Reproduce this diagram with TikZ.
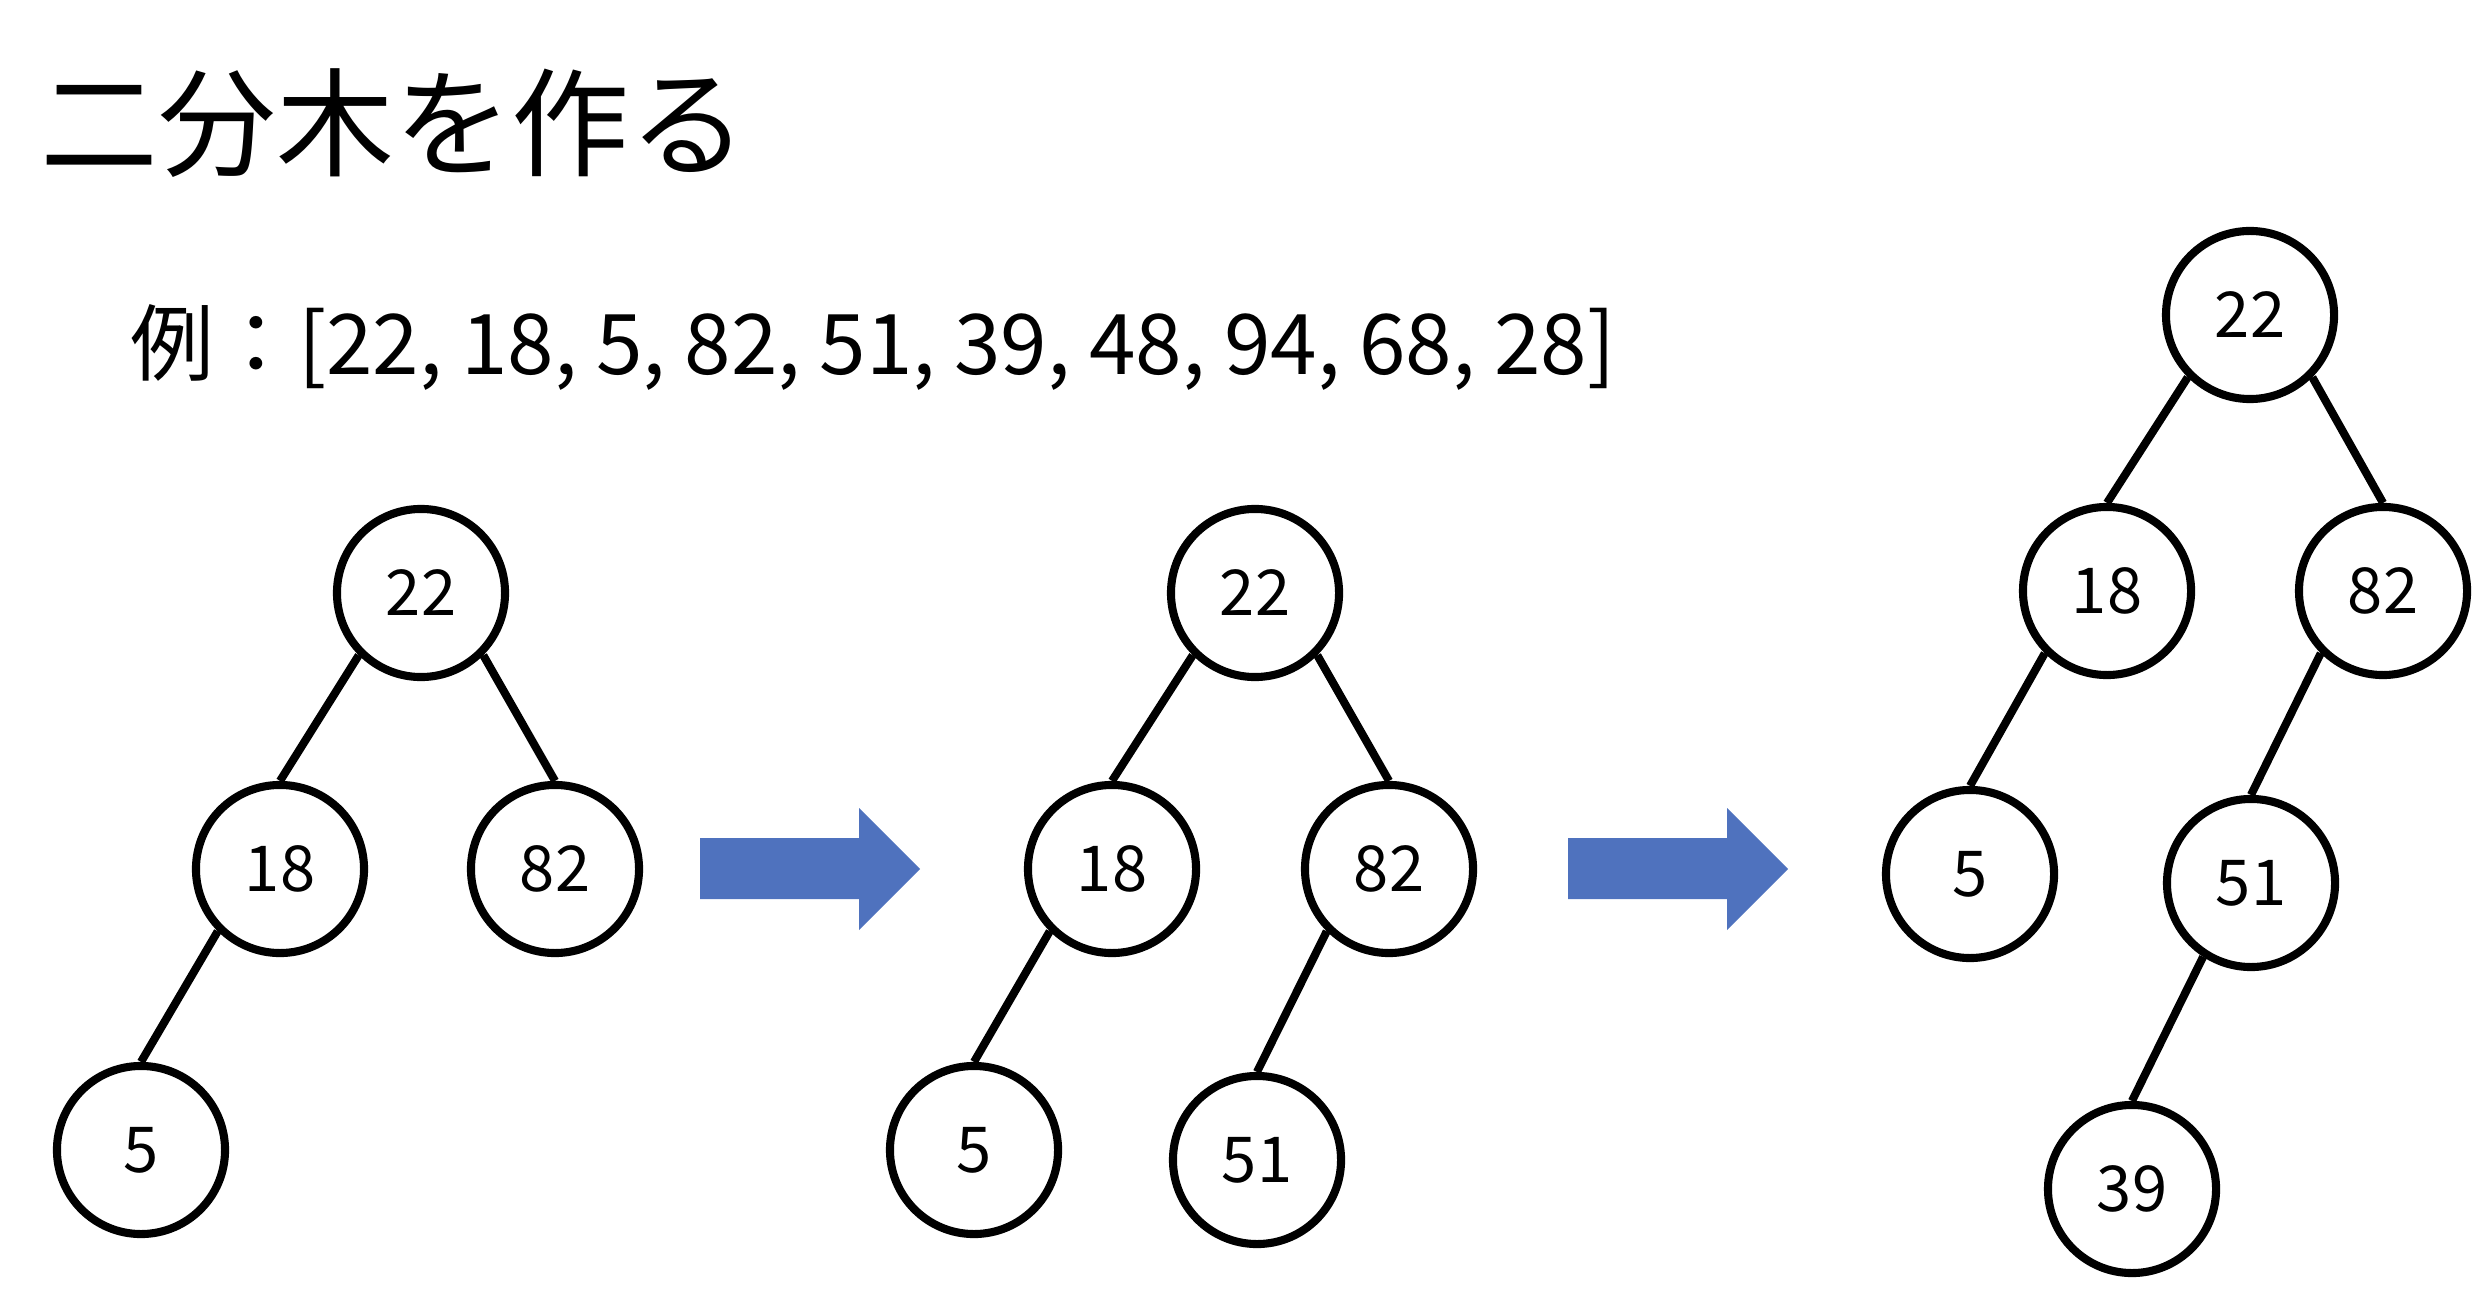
\documentclass[tikz,border=0pt]{standalone}
\usepackage{fontspec}
\setmainfont{Noto Sans CJK JP}
\usetikzlibrary{positioning}
\definecolor{arrowblue}{RGB}{79,114,190}

\begin{document}
\begin{tikzpicture}[
  x=0.01cm, y=-0.01cm,
  vertex/.style={circle, draw, line width=2.3pt, minimum size=1.68cm,
                 inner sep=0pt, font=\fontsize{18}{18}\selectfont},
  branch/.style={line width=2.3pt},
]
\useasboundingbox (0,0) rectangle (2492,1316);

% ---- 見出し ----
\node[anchor=base west, inner sep=0pt, font=\fontsize{33.5}{33.5}\selectfont]
  (title) at (40,168) {二分木を作る};
\node[anchor=base west, inner sep=0pt, font=\fontsize{23.8}{23.8}\selectfont]
  (sample) at (130,375) {例：[22, 18, 5, 82, 51, 39, 48, 94, 68, 28]};

% ---- 木 1 ----
\node[vertex] (a22) at (421,593)  {22};
\node[vertex] (a18) at (280,869)  {18};
\node[vertex] (a82) at (555,869)  {82};
\node[vertex] (a5)  at (141,1150) {5};
\draw[branch] (a22.south west) -- (a18.north);
\draw[branch] (a22.south east) -- (a82.north);
\draw[branch] (a18.south west) -- (a5.north);

% ---- 木 2 ----
\node[vertex] (b22) at (1255,593)  {22};
\node[vertex] (b18) at (1112,869)  {18};
\node[vertex] (b82) at (1389,869)  {82};
\node[vertex] (b5)  at (974,1150)  {5};
\node[vertex] (b51) at (1257,1160) {51};
\draw[branch] (b22.south west) -- (b18.north);
\draw[branch] (b22.south east) -- (b82.north);
\draw[branch] (b18.south west) -- (b5.north);
\draw[branch] (b82.south west) -- (b51.north);

% ---- 木 3 ----
\node[vertex] (c22) at (2250,315)  {22};
\node[vertex] (c18) at (2107,591)  {18};
\node[vertex] (c82) at (2383,591)  {82};
\node[vertex] (c5)  at (1970,874)  {5};
\node[vertex] (c51) at (2251,883)  {51};
\node[vertex] (c39) at (2132,1189) {39};
\draw[branch] (c22.south west) -- (c18.north);
\draw[branch] (c22.south east) -- (c82.north);
\draw[branch] (c18.south west) -- (c5.north);
\draw[branch] (c82.south west) -- (c51.north);
\draw[branch] (c51.237) -- (c39.north);

% ---- 矢印 ----
\foreach \x in {700,1568}
  \fill[arrowblue] (\x,838) -- ++(159,0) -- ++(0,-30) -- ++(61,61)
    -- ++(-61,61) -- ++(0,-31) -- ++(-159,0) -- cycle;

\end{tikzpicture}
\end{document}
